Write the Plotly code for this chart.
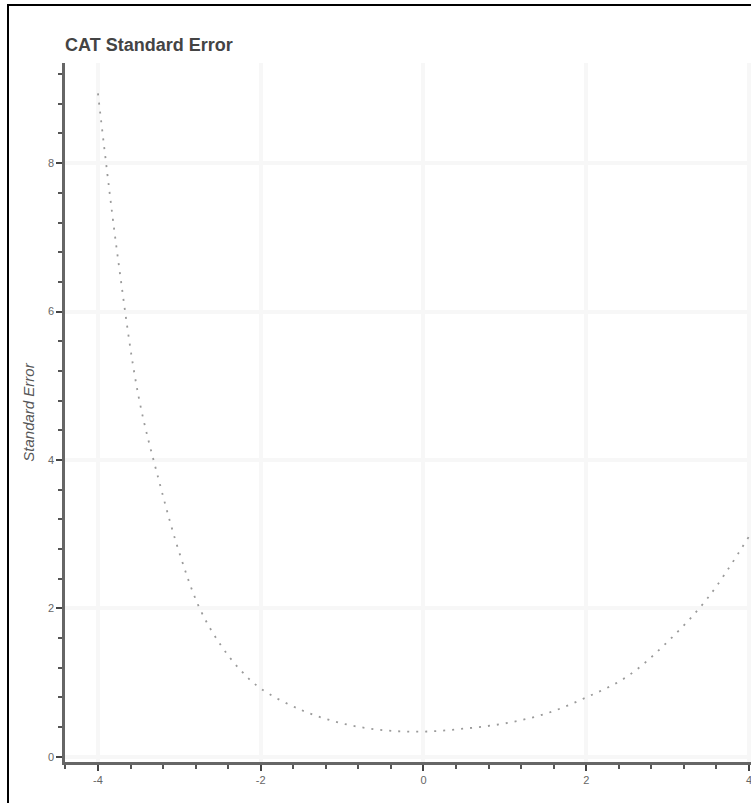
import plotly.graph_objects as go

theta = [-4.0, -3.75, -3.5, -3.25, -3.0, -2.75, -2.5, -2.25, -2.0, -1.5, -1.0,
         -0.5, 0.0, 0.5, 1.0, 1.5, 2.0, 2.5, 3.0, 3.5, 4.0]
std_error = [8.94, 6.68, 4.85, 3.72, 2.75, 2.0, 1.52, 1.17, 0.92, 0.63, 0.45,
             0.36, 0.34, 0.38, 0.45, 0.58, 0.80, 1.08, 1.55, 2.15, 2.97]
x_ticks = [-4, -2, 0, 2, 4]
y_ticks = [0, 2, 4, 6, 8]

W, H = 751, 803
L, R, T, B = 65, 0, 63, 41

fig = go.Figure()
fig.add_trace(go.Scatter(
    x=theta, y=std_error, mode="lines",
    line=dict(color="#9a9a9a", width=1.8, dash="2px,7px", shape="spline"),
    hoverinfo="skip", showlegend=False,
))

axis_common = dict(
    showline=True, linecolor="#666666", linewidth=2.5,
    ticks="outside", ticklen=6, tickwidth=2, tickcolor="#444444",
    showgrid=True, gridcolor="#f7f7f7", gridwidth=4,
    zeroline=False, ticklabeloverflow="allow",
    tickfont=dict(family="Liberation Sans, Arial", size=11, color="#666666"),
    minor=dict(ticks="outside", ticklen=4, tickwidth=1.5, tickcolor="#555555",
               showgrid=False),
)

fig.update_layout(
    width=W, height=H,
    margin=dict(l=L, r=R, t=T, b=B, pad=0),
    paper_bgcolor="white", plot_bgcolor="white",
    title=dict(text="<b>CAT Standard Error</b>", x=L / W, xanchor="left",
               xref="container", y=1 - 45 / H, yanchor="middle", yref="container",
               font=dict(family="Liberation Sans, Arial", size=18, color="#444444")),
    xaxis=dict(range=[-4.405, 4.025], tickvals=x_ticks,
               ticktext=[str(v) for v in x_ticks],
               **{**axis_common, "minor": dict(axis_common["minor"], dtick=0.4, tick0=-4)}),
    yaxis=dict(range=[-0.07, 9.35], tickvals=y_ticks,
               ticktext=[str(v) for v in y_ticks],
               title=dict(text="<i>Standard Error</i>", standoff=10,
                          font=dict(family="Liberation Sans, Arial", size=15, color="#555555")),
               **{**axis_common, "minor": dict(axis_common["minor"], dtick=0.4, tick0=0)}),
)

pw = W - L - R
ph = H - T - B
fig.add_shape(type="rect", xref="paper", yref="paper",
              x0=(8 - L) / pw, x1=1.1, y0=-0.2, y1=(H - B - 5) / ph,
              line=dict(color="black", width=2), fillcolor="rgba(0,0,0,0)", layer="above")

fig.write_html("out.html")
